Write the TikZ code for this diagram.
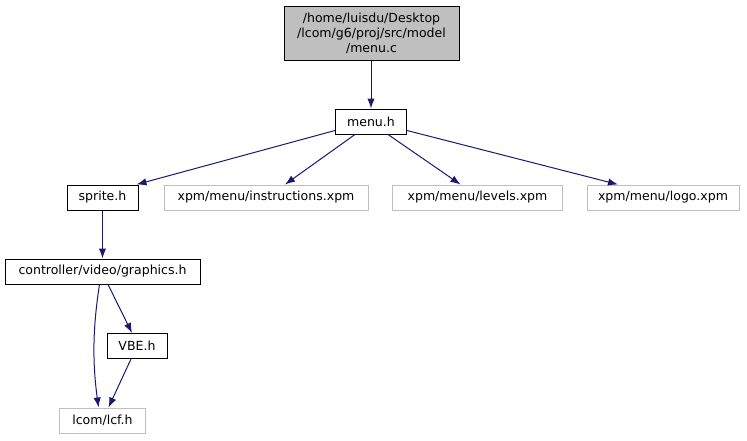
\documentclass[tikz,border=0pt]{standalone}
\usepackage{fontspec}
\setmainfont{DejaVu Sans}
\usetikzlibrary{arrows.meta,calc}
\definecolor{edgeblue}{HTML}{191970}
\definecolor{extgray}{HTML}{BFBFBF}
\begin{document}
\begin{tikzpicture}[x=0.75pt,y=-0.75pt,
  every node/.style={font=\fontsize{9.4pt}{11.2pt}\selectfont, inner sep=0pt, line width=0.75pt, align=center},
  filebox/.style={draw=black, minimum height=18.75pt},
  extbox/.style={draw=extgray, minimum height=18.75pt},
  dep/.style={draw=edgeblue, line width=0.75pt, -{Latex[length=7.5pt,width=5.5pt]}}]
\useasboundingbox (0,0) rectangle (747,440);
\node[draw=black, fill=extgray, minimum width=131.25pt, minimum height=40.5pt] (menuc) at (371.5,33)
  {/home/luisdu/Desktop\\/lcom/g6/proj/src/model\\/menu.c};
\node[filebox, minimum width=53.25pt] (menuh) at (371,121.5) {menu.h};
\node[filebox, minimum width=53.25pt] (sprite) at (102.5,197.5) {sprite.h};
\node[extbox, minimum width=153pt] (instr) at (266,197.5) {xpm/menu/instructions.xpm};
\node[extbox, minimum width=127.5pt] (levels) at (477.5,197.5) {xpm/menu/levels.xpm};
\node[extbox, minimum width=114pt] (logo) at (663,197.5) {xpm/menu/logo.xpm};
\node[filebox, minimum width=146.25pt] (graphics) at (102.5,271.5) {controller/video/graphics.h};
\node[filebox, minimum width=45pt] (vbe) at (137,346) {VBE.h};
\node[extbox, minimum width=64.5pt] (lcf) at (102.5,420.5) {lcom/lcf.h};
\draw[dep] (menuc.south -| menuh.north) -- (menuh.north);
\draw[dep] ($(menuh.west)+(0,9)$) -- ($(sprite.north east)+(-2,0)$);
\draw[dep] ($(menuh.south)+(-16,0)$) -- ($(instr.north)+(19,0)$);
\draw[dep] ($(menuh.south)+(17,0)$) -- ($(levels.north)+(-17,0)$);
\draw[dep] ($(menuh.east)+(0,9)$) -- ($(logo.north)+(-45,0)$);
\draw[dep] (sprite.south) -- (graphics.north);
\draw[dep] ($(graphics.south)+(-3,0)$) .. controls ($(graphics.south)+(-10,45)$) and ($(lcf.north)+(-10,-45)$) .. ($(lcf.north)+(-4,0)$);
\draw[dep] ($(graphics.south)+(5.5,0)$) -- ($(vbe.north)+(-5,0)$);
\draw[dep] ($(vbe.south)+(-6,0)$) -- ($(lcf.north)+(6,0)$);
\end{tikzpicture}
\end{document}
